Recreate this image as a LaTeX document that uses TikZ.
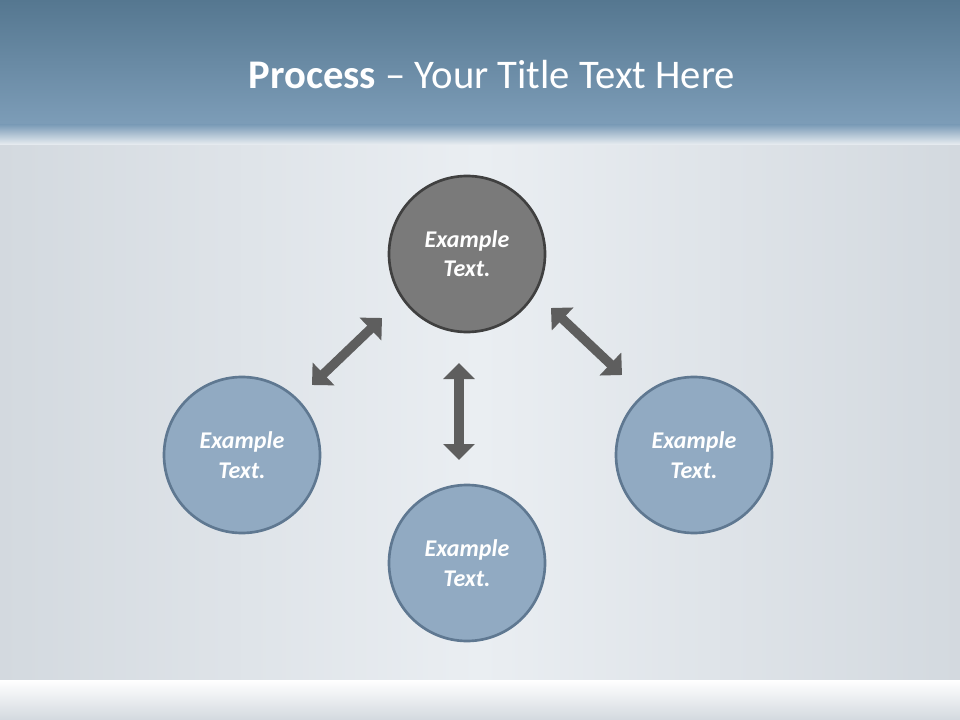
\documentclass[tikz,border=0pt]{standalone}
\usepackage{fontspec}
\setmainfont{Carlito}
\usetikzlibrary{arrows.meta}
\definecolor{hdtop}{HTML}{557790}
\definecolor{hdbot}{HTML}{7D9DB8}
\definecolor{bgc}{HTML}{D3D9DF}
\definecolor{bgl}{HTML}{EAEEF2}
\definecolor{bluef}{HTML}{91AAC2}
\definecolor{blued}{HTML}{5F7891}
\definecolor{grayf}{HTML}{7A7A7A}
\definecolor{arr}{HTML}{5E5E5E}
\tikzset{
 circ/.style={circle,minimum size=117pt,line width=2pt,text=white,font=\bfseries\itshape\fontsize{18}{22}\selectfont,align=center},
 bcirc/.style={circ,fill=bluef,draw=blued},
 gcirc/.style={circ,fill=grayf,draw=black!75},
 dbl/.style={draw=arr,line width=7pt,{Triangle[length=12pt,width=23pt]}-{Triangle[length=12pt,width=23pt]}}
}
\begin{document}
\begin{tikzpicture}[x=0.75pt,y=-0.75pt]
\useasboundingbox (0,0) rectangle (960,720);
\shade[left color=bgc,right color=bgc,middle color=bgl] (0,130) rectangle (960,680);
\shade[top color=hdtop,bottom color=hdbot] (0,0) rectangle (960,125);
\shade[top color=hdbot,bottom color=bgl] (0,125) rectangle (960,145);
\shade[top color=white,bottom color=bgc] (0,680) rectangle (960,720);
\node[text=white,font=\fontsize{30.5}{34}\selectfont] (title) at (492,75) {\textbf{Process} – Your Title Text Here};
\node[gcirc] (top) at (467,254) {Example\\Text.};
\node[bcirc] (left) at (242,455) {Example\\Text.};
\node[bcirc] (bot) at (467,563) {Example\\Text.};
\node[bcirc] (right) at (694,455) {Example\\Text.};
\coordinate (l1) at (382,318); \coordinate (l2) at (312,385);
\coordinate (v1) at (459,363); \coordinate (v2) at (459,460);
\coordinate (r1) at (551,308); \coordinate (r2) at (622,375);
\draw[dbl] (l1) -- (l2);
\draw[dbl] (v1) -- (v2);
\draw[dbl] (r1) -- (r2);
\end{tikzpicture}
\end{document}
